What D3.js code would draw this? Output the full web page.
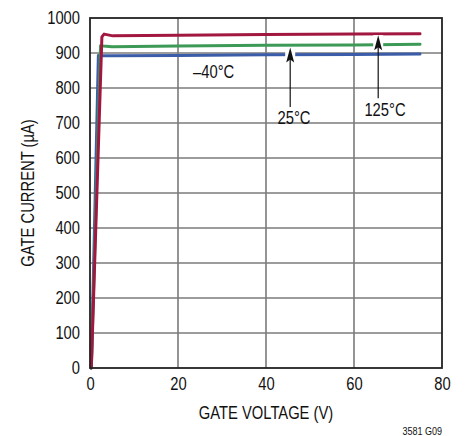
<!DOCTYPE html>
<html><head><meta charset="utf-8">
<script src="https://cdn.jsdelivr.net/npm/d3@7"></script>
<style>
body{margin:0;background:#fff;}
svg text{font-family:"Liberation Sans",Arial,sans-serif;fill:#111;}
</style></head>
<body><svg id="c" width="468" height="436"></svg>
<script>
const xTicks = [0, 20, 40, 60, 80];
const yTicks = [0, 100, 200, 300, 400, 500, 600, 700, 800, 900, 1000];
const vMinus40 = [0.3, 1.9, 2.5, 5, 20, 40, 60, 75];
const iMinus40 = [0, 893, 892, 892, 893, 895, 896, 897];
const v25 = [0.3, 2.4, 3.0, 5, 20, 40, 60, 75];
const i25 = [0, 921, 920, 918, 920, 922, 923, 925];
const v125 = [0.3, 2.7, 3.2, 5.2, 20, 40, 60, 75];
const i125 = [0, 946, 954, 949, 951, 953, 954, 955];
const seriesNames = ["–40°C", "25°C", "125°C"];
const seriesColors = ["#3b5ca9", "#3d9a56", "#a2173f"];

const svg = d3.select("#c");
const x = d3.scaleLinear().domain([0, 80]).range([90, 442]);
const y = d3.scaleLinear().domain([0, 1000]).range([368, 18]);

// grid
svg.append("g").selectAll("line").data(yTicks.slice(1, -1)).join("line")
  .attr("x1", x(0)).attr("x2", x(80)).attr("y1", d => y(d)).attr("y2", d => y(d))
  .attr("stroke", "#3a3a3a").attr("stroke-width", 1.2);
svg.append("g").selectAll("line").data(xTicks.slice(1, -1)).join("line")
  .attr("y1", y(0)).attr("y2", y(1000)).attr("x1", d => x(d)).attr("x2", d => x(d))
  .attr("stroke", "#7a7a7a").attr("stroke-width", 1.6);

// axes
const ax = svg.append("g").attr("transform", `translate(0,${y(0)})`)
  .call(d3.axisBottom(x).tickValues(xTicks).tickFormat(d3.format("d")).tickSize(0).tickPadding(9));
const ay = svg.append("g").attr("transform", `translate(${x(0)},0)`)
  .call(d3.axisLeft(y).tickValues(yTicks).tickFormat(d3.format("d")).tickSize(0).tickPadding(10));
[ax, ay].forEach(g => {
  g.select(".domain").remove();
  g.selectAll("text").attr("font-size", 18).attr("fill", "#111")
    .attr("font-family", '"Liberation Sans",Arial,sans-serif');
});

// curves
const line = d3.line().x(d => x(d[0])).y(d => y(d[1]));
const data = [
  d3.zip(vMinus40, iMinus40),
  d3.zip(v25, i25),
  d3.zip(v125, i125)
];
data.forEach((pts, k) => {
  svg.append("path").datum(pts).attr("d", line)
    .attr("fill", "none").attr("stroke", seriesColors[k])
    .attr("stroke-width", 3).attr("stroke-linejoin", "round").attr("stroke-linecap", "round");
});

// frame
svg.append("rect").attr("x", x(0)).attr("y", y(1000))
  .attr("width", x(80) - x(0)).attr("height", y(0) - y(1000))
  .attr("fill", "none").attr("stroke", "#222").attr("stroke-width", 1.8);

// annotations
const arrows = [
  {xv: 45.5, from: 746, to: 916, label: seriesNames[1], lx: 294, ly: 124},
  {xv: 65.5, from: 771, to: 951, label: seriesNames[2], lx: 385, ly: 116}
];
arrows.forEach(a => {
  const ax0 = x(a.xv), yt = y(a.to), yb = y(a.from);
  svg.append("rect").attr("x", ax0 - 5).attr("y", yt).attr("width", 10).attr("height", 16).attr("fill", "#fff");
  svg.append("line").attr("x1", ax0).attr("x2", ax0).attr("y1", yb).attr("y2", yt + 8)
    .attr("stroke", "#111").attr("stroke-width", 1.2);
  svg.append("path").attr("d", `M${ax0},${yt} L${ax0 - 4},${yt + 15} L${ax0},${yt + 12} L${ax0 + 4},${yt + 15} Z`)
    .attr("fill", "#111");
  svg.append("text").attr("x", a.lx).attr("y", a.ly).attr("text-anchor", "middle")
    .attr("font-size", 18).text(a.label);
});
svg.append("text").attr("x", 193).attr("y", 78).attr("font-size", 18).text(seriesNames[0]);

// axis titles
svg.append("text").attr("x", 266).attr("y", 419).attr("text-anchor", "middle")
  .attr("font-size", 18).text("GATE VOLTAGE (V)");
svg.append("text").attr("transform", "translate(34,193) rotate(-90)").attr("text-anchor", "middle")
  .attr("font-size", 18).text("GATE CURRENT (µA)");
svg.append("text").attr("x", 442).attr("y", 435).attr("text-anchor", "end")
  .attr("font-size", 11).text("3581 G09");

// emulate a condensed face: compress every label horizontally
svg.selectAll("text").each(function () {
  const w = this.getComputedTextLength();
  d3.select(this).attr("textLength", (w * 0.82).toFixed(1)).attr("lengthAdjust", "spacingAndGlyphs");
});
</script></body></html>
